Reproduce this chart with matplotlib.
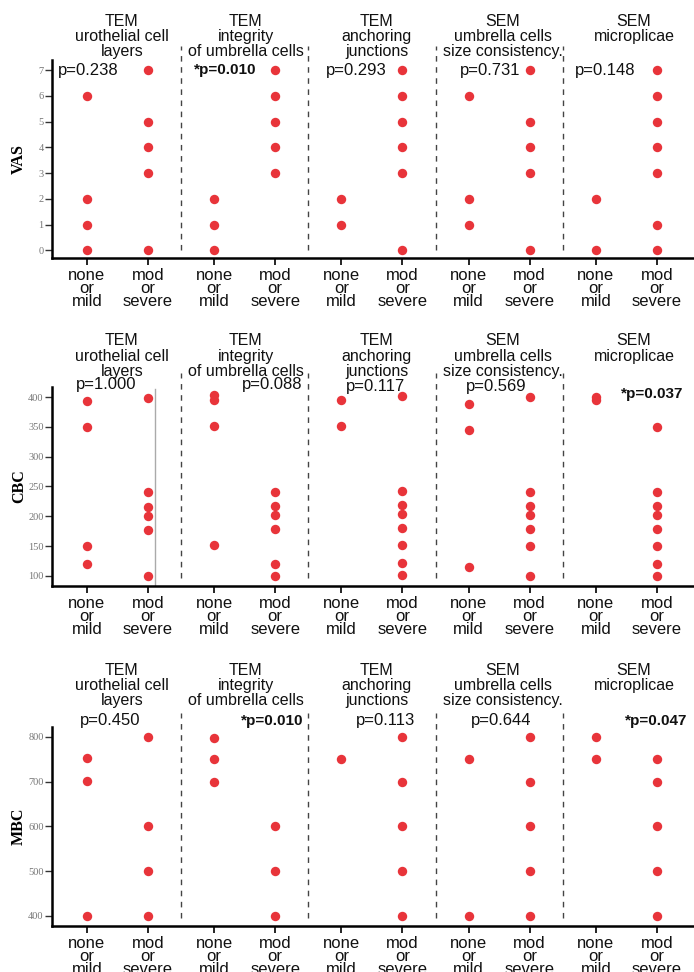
import matplotlib
matplotlib.use('Agg')
import matplotlib.pyplot as plt
import matplotlib.transforms as mtransforms

plt.rcParams['font.family'] = ['Liberation Sans', 'DejaVu Sans']

# panel titles and group labels
titles = ['TEM\nurothelial cell\nlayers',
          'TEM\nintegrity\nof umbrella cells',
          'TEM\nanchoring\njunctions',
          'SEM\numbrella cells\nsize consistency.',
          'SEM\nmicroplicae']
groups = ['none\nor\nmild', 'mod\nor\nsevere']

# VAS
vas_none = [[6, 2, 1, 0], [2, 1, 0], [2, 1], [6, 2, 1], [2, 0]]
vas_mod = [[7, 5, 4, 3, 0], [7, 6, 5, 4, 3], [7, 6, 5, 4, 3, 0],
           [7, 5, 4, 3, 0], [7, 6, 5, 4, 3, 1, 0]]
vas_p = ['p=0.238', '*p=0.010', 'p=0.293', 'p=0.731', 'p=0.148']

# CBC
cbc_none = [[393, 350, 150, 120], [403, 395, 352, 152], [395, 352],
            [388, 345, 115], [400, 395]]
cbc_mod = [[399, 240, 215, 200, 177, 99],
           [241, 218, 202, 178, 120, 100],
           [402, 243, 219, 203, 180, 152, 121, 102],
           [400, 241, 218, 202, 178, 150, 100],
           [350, 241, 218, 202, 178, 150, 120, 100]]
cbc_p = ['p=1.000', 'p=0.088', 'p=0.117', 'p=0.569', '*p=0.037']

# MBC
mbc_none = [[752, 702, 400], [798, 750, 700], [750], [750, 400], [800, 750]]
mbc_mod = [[800, 600, 500, 400], [600, 500, 400], [800, 700, 600, 500, 400],
           [800, 700, 600, 500, 400], [750, 700, 600, 500, 400]]
mbc_p = ['p=0.450', '*p=0.010', 'p=0.113', 'p=0.644', '*p=0.047']

rows = [
    dict(label='VAS', none=vas_none, mod=vas_mod, p=vas_p, ylim=(-0.3, 7.4),
         ticks=range(0, 8), box=(0.7346, 0.9383), title_y=0.986,
         p_x=[88, 225, 356, 490, 605], p_y=[0.949] * 5),
    dict(label='CBC', none=cbc_none, mod=cbc_mod, p=cbc_p, ylim=(83, 417),
         ticks=range(100, 401, 50), box=(0.3971, 0.6019), title_y=0.657,
         p_x=[106, 272, 376, 496, 652], p_y=[1.01, 1.01, 1.003, 1.0, 0.965]),
    dict(label='MBC', none=mbc_none, mod=mbc_mod, p=mbc_p, ylim=(377, 822),
         ticks=range(400, 801, 100), box=(0.0473, 0.2521), title_y=0.318,
         p_x=[110, 272, 386, 501, 656], p_y=[1.03] * 5),
]

title_px = [122, 246, 377, 503, 634]
step = 2.02
inner = 0.968
red = '#e8343a'
px = lambda p: (p - 87) / 63.0

fig = plt.figure(figsize=(6.94, 9.72), dpi=100)

for r in rows:
    b, t = r['box']
    ax = fig.add_axes([0.0749, b, 0.925, t - b])
    ax.set_xlim(px(52), px(694))
    ax.set_ylim(*r['ylim'])
    t_trans = mtransforms.blended_transform_factory(ax.transData, fig.transFigure)
    p_trans = mtransforms.blended_transform_factory(ax.transData, ax.transAxes)
    for i in range(5):
        x0 = i * step
        ax.scatter([x0] * len(r['none'][i]), r['none'][i], s=46, color=red,
                   zorder=3, clip_on=False, linewidths=0)
        ax.scatter([x0 + inner] * len(r['mod'][i]), r['mod'][i], s=46,
                   color=red, zorder=3, clip_on=False, linewidths=0)
        if i < 4:
            ax.axvline((x0 + inner + (i + 1) * step) / 2, ymin=0.04, ymax=1.07,
                       color='#444444', lw=1, ls=(0, (4, 4)), clip_on=False)
        ax.text(px(title_px[i]), r['title_y'], titles[i], transform=t_trans,
                ha='center', va='top', fontsize=11.5, linespacing=1.02,
                color='#111111')
        bold = r['p'][i].startswith('*')
        ax.text(px(r['p_x'][i]), r['p_y'][i], r['p'][i], transform=p_trans,
                ha='center', va='center', fontsize=11 if bold else 12,
                fontweight='bold' if bold else 'normal', color='#111111')

    if r['label'] == 'CBC':
        ax.axvline(px(155), ymin=0.0, ymax=0.99, color='#aaaaaa', lw=1)

    ax.set_yticks(list(r['ticks']))
    ax.set_yticklabels([str(v) for v in r['ticks']], family='Liberation Serif',
                       fontsize=7.5, color='#777777')
    xt = []
    xl = []
    for i in range(5):
        xt += [i * step, i * step + inner]
        xl += groups
    ax.set_xticks(xt)
    ax.set_xticklabels(xl, fontsize=12, linespacing=0.85, color='#111111')
    ax.tick_params(axis='x', length=5, width=1.2, pad=2)
    ax.tick_params(axis='y', length=5, width=1.0, pad=1, color='#333333')
    for s in ['top', 'right']:
        ax.spines[s].set_visible(False)
    for s in ['left', 'bottom']:
        ax.spines[s].set_linewidth(1.8)
    ax.set_ylabel(r['label'], family='Liberation Serif', fontweight='bold',
                  fontsize=11.5)
    ax.yaxis.set_label_coords(-0.039, 0.5)

fig.savefig('out.png', dpi=100)
